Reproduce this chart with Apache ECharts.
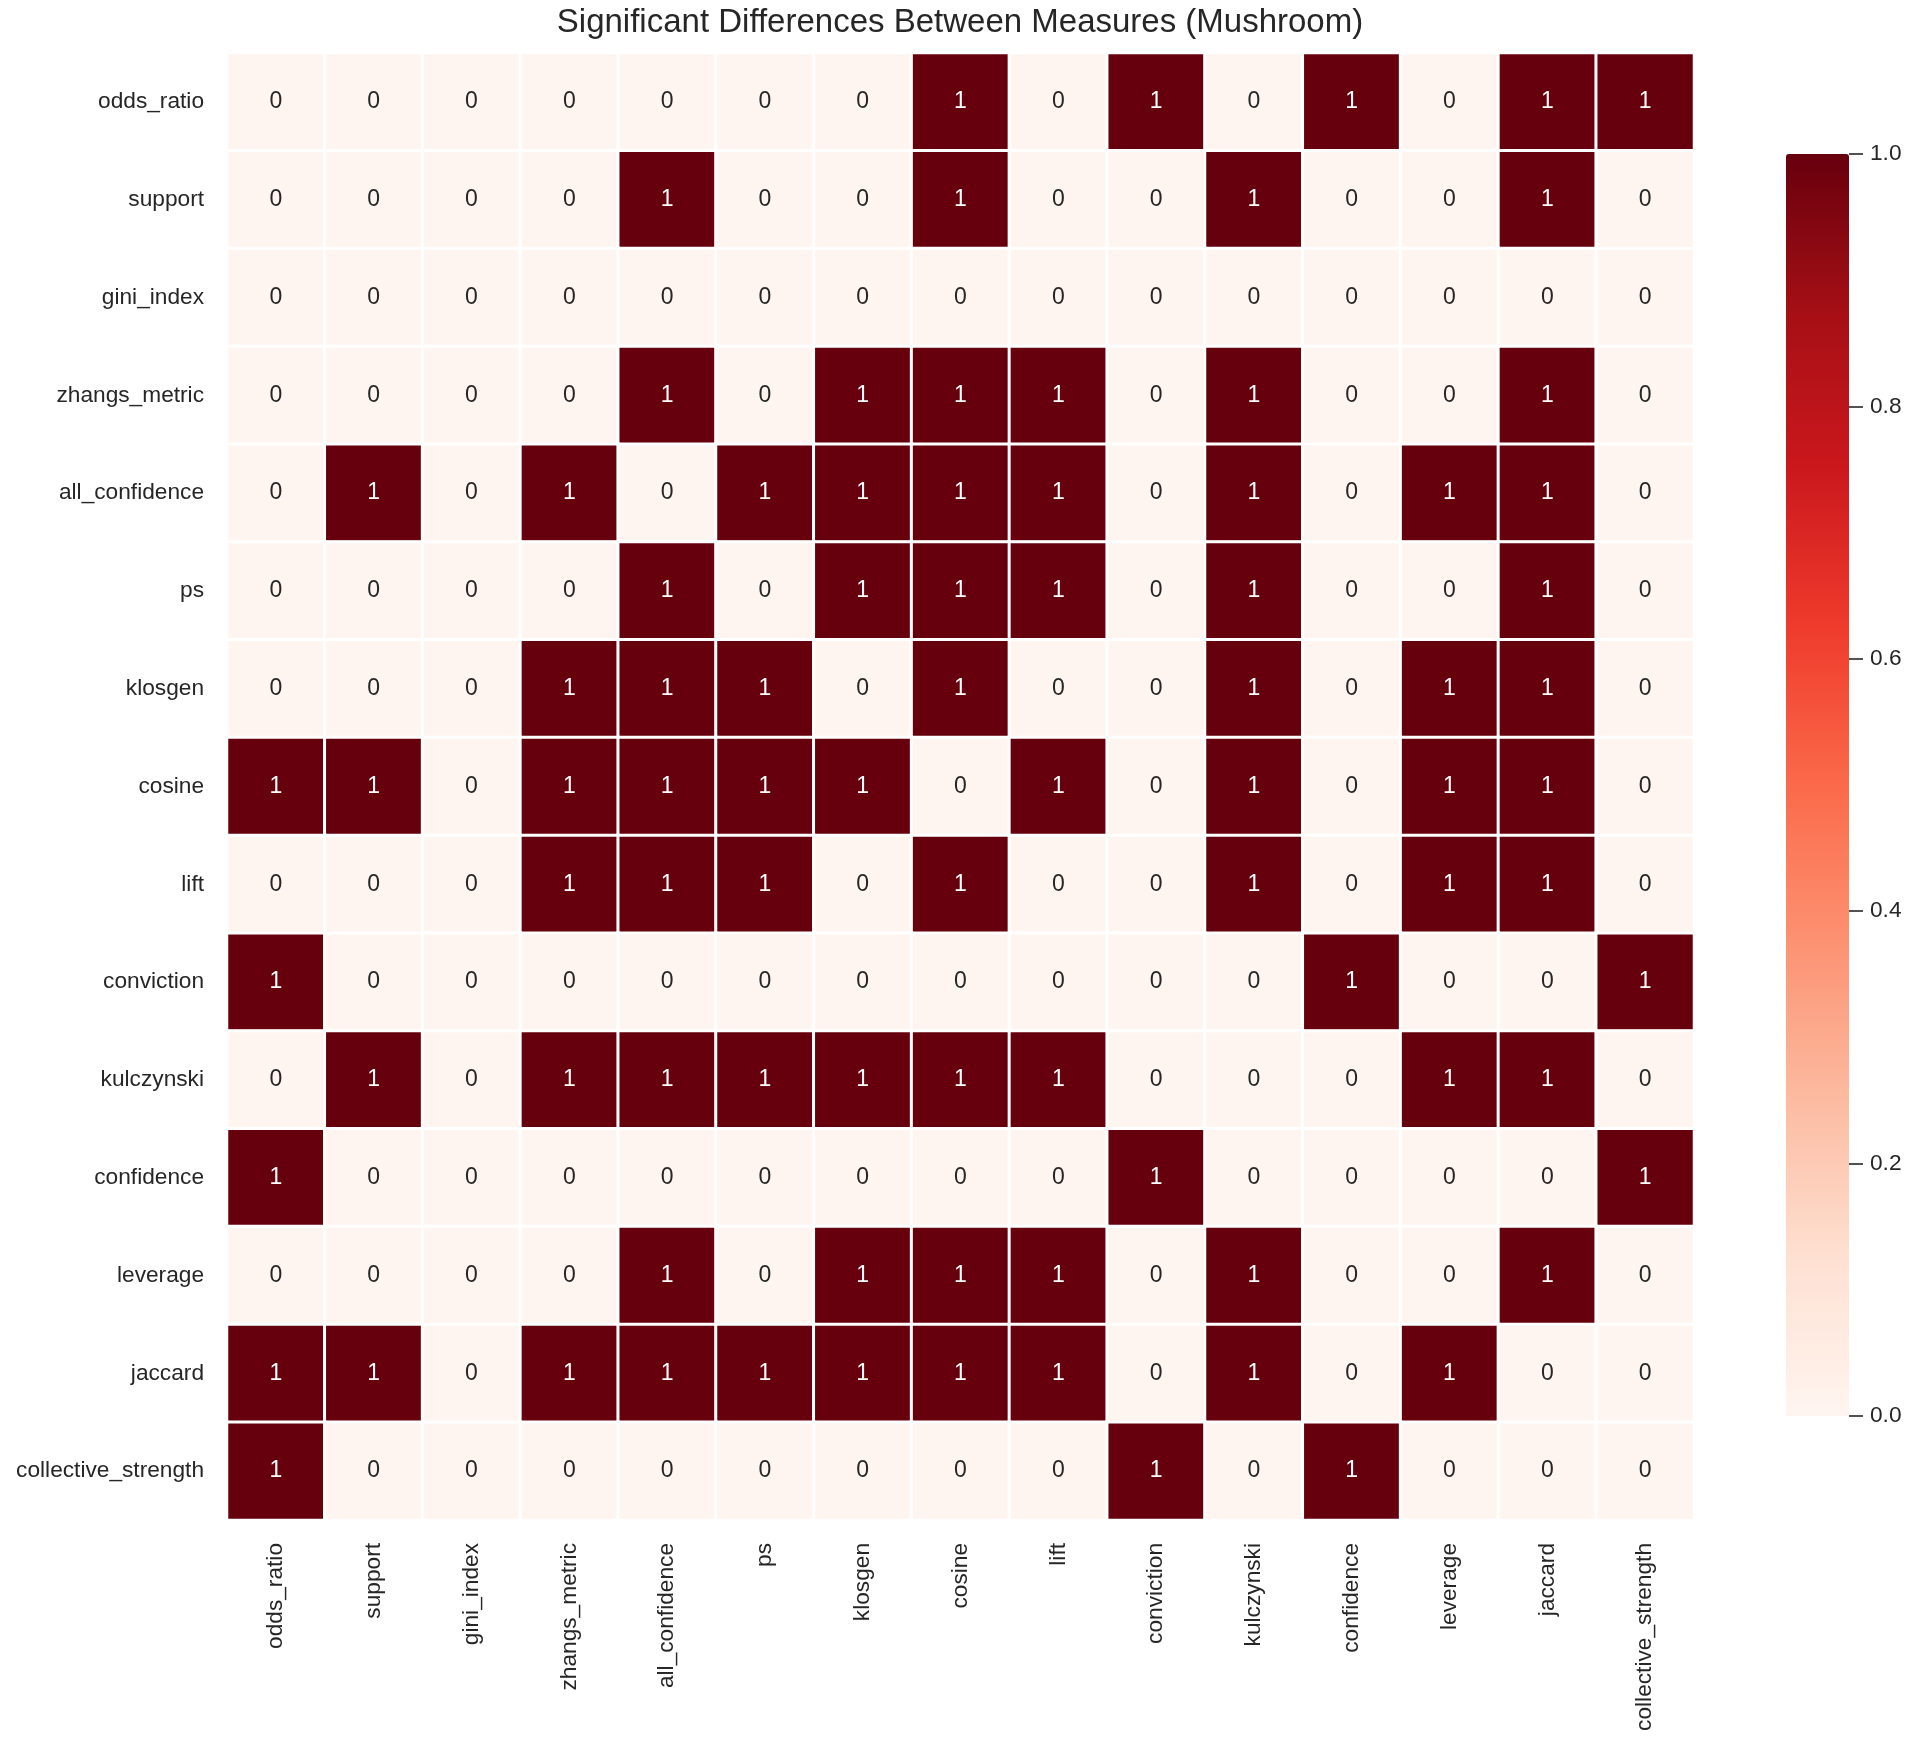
<!DOCTYPE html>
<html>
<head>
<meta charset="utf-8">
<title>Significant Differences Between Measures (Mushroom)</title>
<script src="https://cdn.jsdelivr.net/npm/echarts@6/dist/echarts.min.js"></script>
<style>
  html, body { margin: 0; padding: 0; background: #fff; }
  #main { width: 1915px; height: 1745px; }
</style>
</head>
<body>
<div id="main"></div>
<script>
(function () {
  var myChart = echarts.init(document.getElementById('main'));

  // measure names, same order on both axes (rows top to bottom, columns left to right)
  var measures = ['odds_ratio', 'support', 'gini_index', 'zhangs_metric', 'all_confidence',
    'ps', 'klosgen', 'cosine', 'lift', 'conviction', 'kulczynski', 'confidence',
    'leverage', 'jaccard', 'collective_strength'];

  // 1 = significant difference
  var matrix = [
    [0, 0, 0, 0, 0, 0, 0, 1, 0, 1, 0, 1, 0, 1, 1],
    [0, 0, 0, 0, 1, 0, 0, 1, 0, 0, 1, 0, 0, 1, 0],
    [0, 0, 0, 0, 0, 0, 0, 0, 0, 0, 0, 0, 0, 0, 0],
    [0, 0, 0, 0, 1, 0, 1, 1, 1, 0, 1, 0, 0, 1, 0],
    [0, 1, 0, 1, 0, 1, 1, 1, 1, 0, 1, 0, 1, 1, 0],
    [0, 0, 0, 0, 1, 0, 1, 1, 1, 0, 1, 0, 0, 1, 0],
    [0, 0, 0, 1, 1, 1, 0, 1, 0, 0, 1, 0, 1, 1, 0],
    [1, 1, 0, 1, 1, 1, 1, 0, 1, 0, 1, 0, 1, 1, 0],
    [0, 0, 0, 1, 1, 1, 0, 1, 0, 0, 1, 0, 1, 1, 0],
    [1, 0, 0, 0, 0, 0, 0, 0, 0, 0, 0, 1, 0, 0, 1],
    [0, 1, 0, 1, 1, 1, 1, 1, 1, 0, 0, 0, 1, 1, 0],
    [1, 0, 0, 0, 0, 0, 0, 0, 0, 1, 0, 0, 0, 0, 1],
    [0, 0, 0, 0, 1, 0, 1, 1, 1, 0, 1, 0, 0, 1, 0],
    [1, 1, 0, 1, 1, 1, 1, 1, 1, 0, 1, 0, 1, 0, 0],
    [1, 0, 0, 0, 0, 0, 0, 0, 0, 1, 0, 1, 0, 0, 0]
  ];

  // colorbar ticks
  var cbarMin = 0, cbarMax = 1, cbarStep = 0.2;

  // matplotlib "Reds"
  var reds = ['#fff5f0', '#fee0d2', '#fcbba1', '#fc9272', '#fb6a4a',
    '#ef3b2c', '#cb181d', '#a50f15', '#67000d'];

  var font = 'Liberation Sans, Arial, Helvetica, sans-serif';
  var textColor = '#262626';

  var heatData = [];
  matrix.forEach(function (row, i) {
    row.forEach(function (v, j) {
      heatData.push({
        value: [j, i, v],
        label: { color: v > 0.5 ? '#ffffff' : textColor }
      });
    });
  });

  var option = {
    backgroundColor: '#ffffff',
    animation: false,
    title: {
      text: 'Significant Differences Between Measures (Mushroom)',
      left: 960,
      top: 6,
      padding: 0,
      textAlign: 'center',
      textStyle: { fontFamily: font, fontSize: 33, fontWeight: 'normal', color: textColor }
    },
    grid: [
      {left: 227, top: 53, width: 1467, height: 1467},
      {left: 1786, top: 154, width: 63, height: 1262}
    ],
    xAxis: [
      {
        type: 'category', gridIndex: 0, data: measures, position: 'bottom',
        axisLine: {show: false}, axisTick: {show: false}, splitLine: {show: false},
        axisLabel: {
          rotate: 90, margin: 23, interval: 0,
          fontFamily: font, fontSize: 22.7, color: textColor
        }
      },
      {type: 'value', gridIndex: 1, min: 0, max: 1, show: false}
    ],
    yAxis: [
      {
        type: 'category', gridIndex: 0, data: measures, inverse: true,
        axisLine: {show: false}, axisTick: {show: false}, splitLine: {show: false},
        axisLabel: {
          margin: 23, interval: 0,
          fontFamily: font, fontSize: 22.7, color: textColor
        }
      },
      {
        type: 'value', gridIndex: 1, position: 'right',
        min: cbarMin, max: cbarMax, interval: cbarStep,
        axisLine: {show: false, onZero: false},
        splitLine: {show: false},
        axisTick: {show: true, inside: false, length: 14, lineStyle: {color: textColor, width: 1.6}},
        axisLabel: {
          margin: 21, fontFamily: font, fontSize: 22.7, color: textColor,
          formatter: function (v) { return v.toFixed(1); }
        }
      }
    ],
    visualMap: {
      type: 'continuous',
      min: cbarMin,
      max: cbarMax,
      seriesIndex: 0,
      calculable: false,
      orient: 'vertical',
      left: 1786,
      top: 154,
      padding: 0,
      itemWidth: 63,
      itemHeight: 1262,
      text: ['', ''],
      showLabel: false,
      inRange: { color: reds }
    },
    series: [
      {
        type: 'heatmap',
        xAxisIndex: 0,
        yAxisIndex: 0,
        data: heatData,
        itemStyle: { borderColor: '#ffffff', borderWidth: 3 },
        label: {
          show: true,
          fontFamily: font,
          fontSize: 23,
          formatter: function (p) { return p.value[2]; }
        },
        emphasis: { disabled: true }
      },
      {
        type: 'line',
        xAxisIndex: 1,
        yAxisIndex: 1,
        data: [],
        silent: true
      }
    ]
  };

  myChart.setOption(option);
})();
</script>
</body>
</html>
